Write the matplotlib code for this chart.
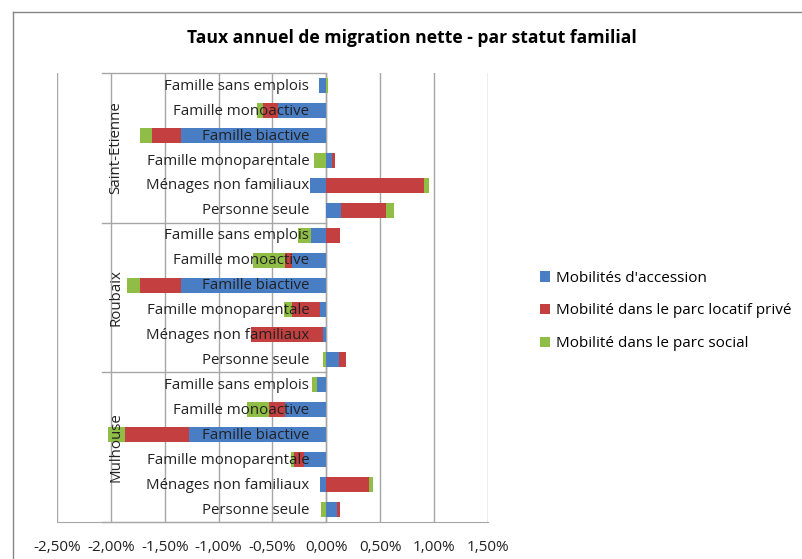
import numpy as np
import matplotlib.pyplot as plt
from matplotlib.lines import Line2D
from matplotlib import ticker

plt.rcParams['font.family'] = ['Open Sans', 'DejaVu Sans']

# catégories (de haut en bas dans chaque ville)
categories = ['Famille sans emplois', 'Famille monoactive', 'Famille biactive',
              'Famille monoparentale', 'Ménages non familiaux', 'Personne seule']
villes = ['Saint-Etienne', 'Roubaix', 'Mulhouse']

# taux en % - Saint-Etienne
se_accession = [-0.07, -0.45, -1.35, 0.053, -0.155, 0.139]
se_prive     = [0.0, -0.136, -0.27, 0.025, 0.903, 0.417]
se_social    = [0.015, -0.062, -0.114, -0.118, 0.046, 0.074]

# Roubaix
rb_accession = [-0.142, -0.318, -1.348, -0.059, -0.034, 0.114]
rb_prive     = [0.124, -0.062, -0.383, -0.26, -0.662, 0.071]
rb_social    = [-0.12, -0.303, -0.117, -0.074, 0.0, -0.031]

# Mulhouse
mu_accession = [-0.087, -0.38, -1.277, -0.21, -0.059, 0.102]
mu_prive     = [0.0, -0.155, -0.588, -0.09, 0.393, 0.022]
mu_social    = [-0.043, -0.198, -0.161, -0.025, 0.037, -0.046]

series = ["Mobilités d'accession", 'Mobilité dans le parc locatif privé',
          'Mobilité dans le parc social']
couleurs = ['#4A7EC4', '#C43F3F', '#8FBD45']

xticks = [-2.5, -2.0, -1.5, -1.0, -0.5, 0.0, 0.5, 1.0, 1.5]

donnees = [np.array(se_accession + rb_accession + mu_accession),
           np.array(se_prive + rb_prive + mu_prive),
           np.array(se_social + rb_social + mu_social)]

n = len(categories) * len(villes)
y = np.arange(n)

fig = plt.figure(figsize=(8.02, 5.59), dpi=100)
ax = fig.add_axes([57/802, 1 - 522/559, (488 - 57)/802, (522 - 73)/559])

# empilement séparé des valeurs positives et négatives
pos = np.zeros(n)
neg = np.zeros(n)
for vals, nom, c in zip(donnees, series, couleurs):
    left = np.where(vals >= 0, pos, neg)
    ax.barh(y, vals, left=left, height=0.6, color=c, label=nom, zorder=3)
    pos = pos + np.clip(vals, 0, None)
    neg = neg + np.clip(vals, None, 0)

ax.set_xlim(-2.5, 1.5)
ax.set_ylim(n - 0.5, -0.5)
ax.set_xticks(xticks)
ax.xaxis.set_major_formatter(ticker.FuncFormatter(
    lambda v, p: f'{v:.2f}%'.replace('.', ',')))
ax.tick_params(axis='x', length=0, pad=13, labelsize=11, colors='#222222')
ax.set_yticks([])
ax.grid(axis='x', color='#A6A6A6', linewidth=1, zorder=0)
for s in ['top', 'right', 'left']:
    ax.spines[s].set_visible(False)
ax.spines['bottom'].set_color('#A6A6A6')
ax.axvline(0, color='#A6A6A6', linewidth=1, zorder=2)

# libellés des catégories posés contre l'axe vertical
for i in range(n):
    ax.text(-0.16, i + 0.03, categories[i % len(categories)], ha='right', va='center',
            fontsize=10.8, color='#222222', zorder=5)

# séparateurs et noms des villes
for k in range(len(villes) + 1):
    ax.plot([-2.085, 0], [k * 6 - 0.5] * 2, color='#A6A6A6', linewidth=1,
            zorder=2, clip_on=False)
for k, v in enumerate(villes):
    ax.text(-1.955, k * 6 + 2.5, v, rotation=90, ha='center', va='center',
            fontsize=10.8, color='#222222', zorder=5)

fig.text(412/802, 1 - 38/559, 'Taux annuel de migration nette - par statut familial',
         ha='center', va='center', fontsize=12.6, fontweight='bold')

ax.legend(loc='center left', bbox_to_anchor=(526/802, 1 - 311/559),
          bbox_transform=fig.transFigure, frameon=False, fontsize=11,
          handlelength=0.65, handleheight=0.65, handletextpad=0.4,
          labelspacing=1.15)

# cadre du graphique
fig.add_artist(Line2D([13/802, 1], [1 - 12/559] * 2, color='#868686', linewidth=1))
fig.add_artist(Line2D([13/802] * 2, [0, 1 - 12/559], color='#868686', linewidth=1))

fig.savefig('out.png', dpi=100)
